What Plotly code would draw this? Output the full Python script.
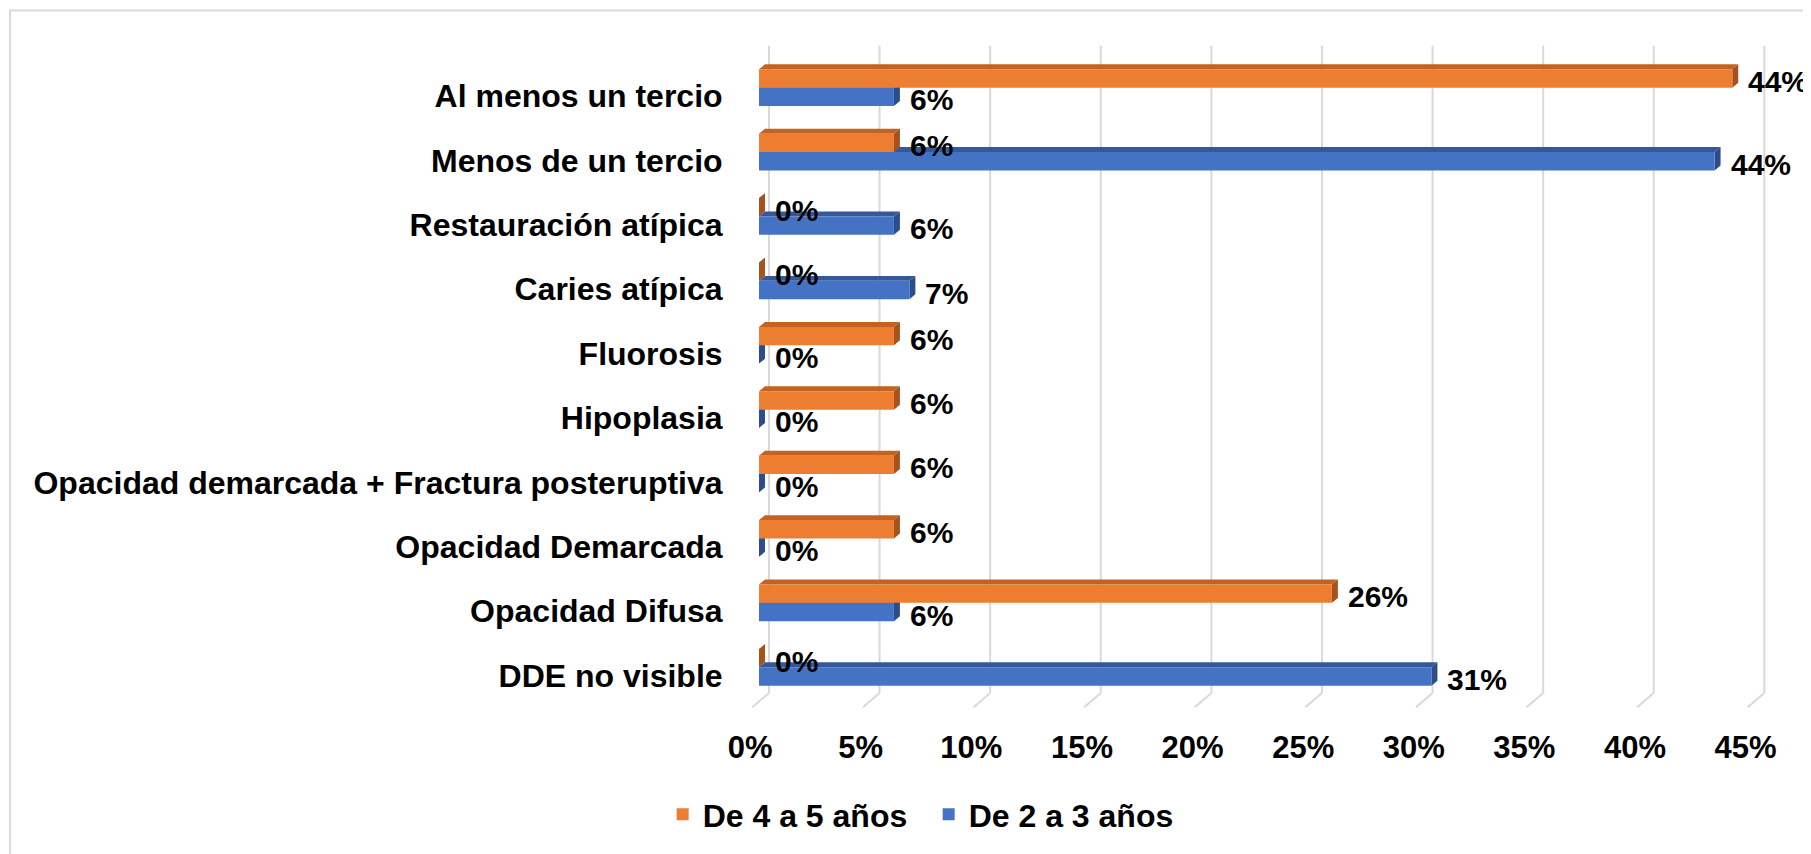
import plotly.graph_objects as go

categories = ["Al menos un tercio", "Menos de un tercio", "Restauración atípica",
              "Caries atípica", "Fluorosis", "Hipoplasia",
              "Opacidad demarcada + Fractura posteruptiva", "Opacidad Demarcada",
              "Opacidad Difusa", "DDE no visible"]
series_names = ["De 4 a 5 años", "De 2 a 3 años"]
vals_4_5 = [44.0, 6.1, 0.0, 0.0, 6.1, 6.1, 6.1, 6.1, 25.9, 0.0]
vals_2_3 = [6.1, 43.2, 6.1, 6.8, 0.0, 0.0, 0.0, 0.0, 6.1, 30.4]
labels_4_5 = ["44%", "6%", "0%", "0%", "6%", "6%", "6%", "6%", "26%", "0%"]
labels_2_3 = ["6%", "44%", "6%", "7%", "0%", "0%", "0%", "0%", "6%", "31%"]
x_ticks = [0, 5, 10, 15, 20, 25, 30, 35, 40, 45]
x_tick_labels = ["0%", "5%", "10%", "15%", "20%", "25%", "30%", "35%", "40%", "45%"]

FONT = "Liberation Sans, Arial, sans-serif"
ORANGE, ORANGE_TOP, ORANGE_SIDE = "#ED7D31", "#C4631F", "#A5521C"
BLUE, BLUE_TOP, BLUE_SIDE = "#4472C4", "#34589A", "#2C4D8A"

n = len(categories)
pos = [n - 1 - i for i in range(n)]
BW = 0.285     # bar thickness (y units)
DX = 0.27      # depth offset in x (% units)
DY = 0.077     # depth offset in y units

fig = go.Figure()
fig.add_trace(go.Bar(name=series_names[1], y=pos, x=vals_2_3, orientation="h",
                     width=BW, offset=-BW, marker=dict(color=BLUE, line=dict(width=0)),
                     hoverinfo="x"))
fig.add_trace(go.Bar(name=series_names[0], y=pos, x=vals_4_5, orientation="h",
                     width=BW, offset=0, marker=dict(color=ORANGE, line=dict(width=0)),
                     hoverinfo="x"))

shapes = []
# back-wall gridlines with floor diagonals
for v in x_ticks:
    shapes.append(dict(type="line", xref="x", yref="y", x0=v + 0.45, x1=v + 0.45,
                       y0=-0.40, y1=9.65, line=dict(color="#D9D9D9", width=2), layer="below"))
    shapes.append(dict(type="line", xref="x", yref="y", x0=v + 0.45, x1=v - 0.3,
                       y0=-0.40, y1=-0.62, line=dict(color="#D9D9D9", width=2), layer="below"))


def faces(v, yb, yt, top_col, side_col):
    out = []
    top = f"M 0,{yt} L {v},{yt} L {v + DX},{yt + DY} L {DX},{yt + DY} Z"
    side = f"M {v},{yb} L {v},{yt} L {v + DX},{yt + DY} L {v + DX},{yb + DY} Z"
    out.append(dict(type="path", xref="x", yref="y", path=top, fillcolor=top_col,
                    line=dict(width=0), layer="below"))
    out.append(dict(type="path", xref="x", yref="y", path=side, fillcolor=side_col,
                    line=dict(width=0), layer="below"))
    return out


for p, vb in zip(pos, vals_2_3):
    shapes += faces(vb, p - BW, p, BLUE_TOP, BLUE_SIDE)
for p, vo in zip(pos, vals_4_5):
    shapes += faces(vo, p, p + BW, ORANGE_TOP, ORANGE_SIDE)

# frame (only top and left edges fall inside the picture)
shapes.append(dict(type="rect", xref="paper", yref="paper", x0=-0.7248, x1=1.2,
                   y0=-0.4, y1=1.044, line=dict(color="#D9D9D9", width=2), layer="below"))

cat_font = dict(family=FONT, size=32, color="black", weight="bold")
tick_font = dict(family=FONT, size=31, color="black", weight="bold")
label_font = dict(family=FONT, size=30, color="black", weight="bold")
annotations = []
for p, v, t in zip(pos, vals_4_5, labels_4_5):
    annotations.append(dict(x=v + DX, y=p + BW / 2, xref="x", yref="y", text=t,
                            showarrow=False, xanchor="left", yanchor="middle",
                            xshift=8, yshift=-3, font=label_font))
for p, v, t in zip(pos, vals_2_3, labels_2_3):
    annotations.append(dict(x=v + DX, y=p - BW / 2, xref="x", yref="y", text=t,
                            showarrow=False, xanchor="left", yanchor="middle",
                            xshift=8, yshift=-3, font=label_font))

# page body has an 8px margin: figure is placed at (8, 8)
fig.update_layout(
    width=1803, height=846,
    margin=dict(l=742, r=40, t=32, b=134),
    paper_bgcolor="white", plot_bgcolor="white",
    barmode="overlay",
    font=cat_font,
    showlegend=True,
    legend=dict(orientation="h", x=0.175, xanchor="center", y=-0.154, yanchor="middle",
                traceorder="reversed", itemwidth=30, entrywidth=221, font=cat_font),
    shapes=shapes,
    annotations=annotations,
)
fig.update_xaxes(range=[-0.407, 45.75], showgrid=False, zeroline=False, showline=False,
                 tickmode="array", tickvals=[v - 0.4 for v in x_ticks], ticktext=x_tick_labels,
                 ticks="outside", ticklen=9, tickcolor="rgba(0,0,0,0)", tickfont=tick_font)
fig.update_yaxes(range=[-0.679, 9.74], showgrid=False, zeroline=False, showline=False,
                 tickmode="array", tickvals=[p - 0.13 for p in pos], ticktext=categories,
                 ticks="outside", ticklen=20, tickcolor="rgba(0,0,0,0)", tickfont=cat_font)

fig.write_html("out.html")
